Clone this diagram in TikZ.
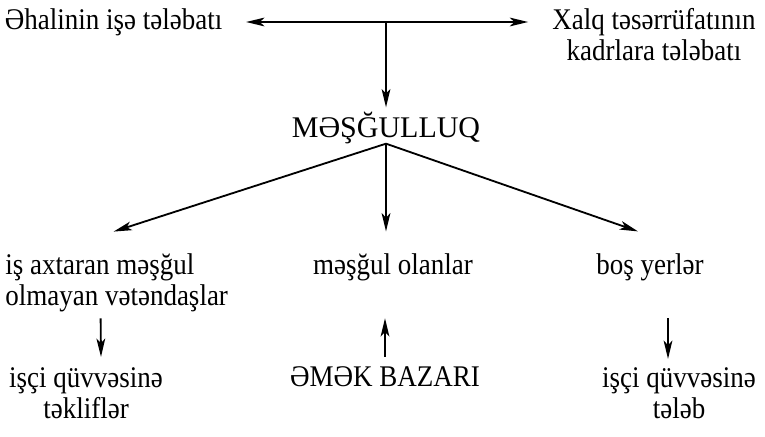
\documentclass[tikz,border=0pt]{standalone}
\usepackage{fontspec}
\setmainfont{Liberation Serif}[FakeStretch=0.9]
\newfontfamily\capsfont{Liberation Serif}
\usepackage{tikz}
\usetikzlibrary{arrows.meta}
\tikzset{
  lbl/.style={inner sep=0pt, font=\fontsize{21.34}{22.05}\selectfont},
  arr/.style={line width=1.3pt, -{Stealth[length=13pt, width=6.2pt, inset=3.2pt]}}
}
\lineskiplimit=-20pt

\begin{document}
\begin{tikzpicture}[x=0.25mm, y=-0.25mm]
\useasboundingbox (0,0) rectangle (765,436);
\node[lbl, anchor=base] (ehali) at (113.5,29) {Əhalinin işə tələbatı};
\node[lbl, align=center] (xalq) at (654,34.25) {Xalq təsərrüfatının\\kadrlara tələbatı};
\node[lbl, anchor=base] (mesg) at (386,137) {\capsfont MƏŞĞULLUQ};
\node[lbl, align=left, anchor=west] (axtaran) at (5,282.5) {iş axtaran məşğul\\olmayan vətəndaşlar};
\node[lbl, anchor=base] (olanlar) at (393,274) {məşğul olanlar};
\node[lbl, anchor=base] (bos) at (650,274) {boş yerlər};
\node[lbl, align=center] (isci1) at (86,393.25) {işçi qüvvəsinə\\təkliflər};
\node[lbl, anchor=base] (bazar) at (385,386) {ƏMƏK BAZARI};
\node[lbl, align=center] (isci2) at (679,393.25) {işçi qüvvəsinə\\tələb};
\coordinate (top) at (386,22);
\draw[arr, shorten >=5.9mm] (top) -- (ehali.east |- top);
\draw[arr, shorten >=6mm] (top) -- (xalq.west |- top);
\draw[arr, shorten >=1mm] (top) -- (mesg.north);
\draw[arr] (mesg.south) -- ([shift={(-3,-21.5)}]axtaran.north);
\draw[arr] (mesg.south) -- ([shift={(-7,-21.5)}]olanlar.north);
\draw[arr] (mesg.south) -- ([shift={(-12,-21.5)}]bos.north);
\draw[arr] ([shift={(-16,6.5)}]axtaran.south) -- ([shift={(15,-10.5)}]isci1.north);
\draw[arr] ([shift={(0,-9)}]bazar.north) -- ([shift={(-8,37.5)}]olanlar.south);
\draw[arr] ([shift={(18,37.5)}]bos.south) -- ([shift={(-11,-8.5)}]isci2.north);
\end{tikzpicture}
\end{document}
